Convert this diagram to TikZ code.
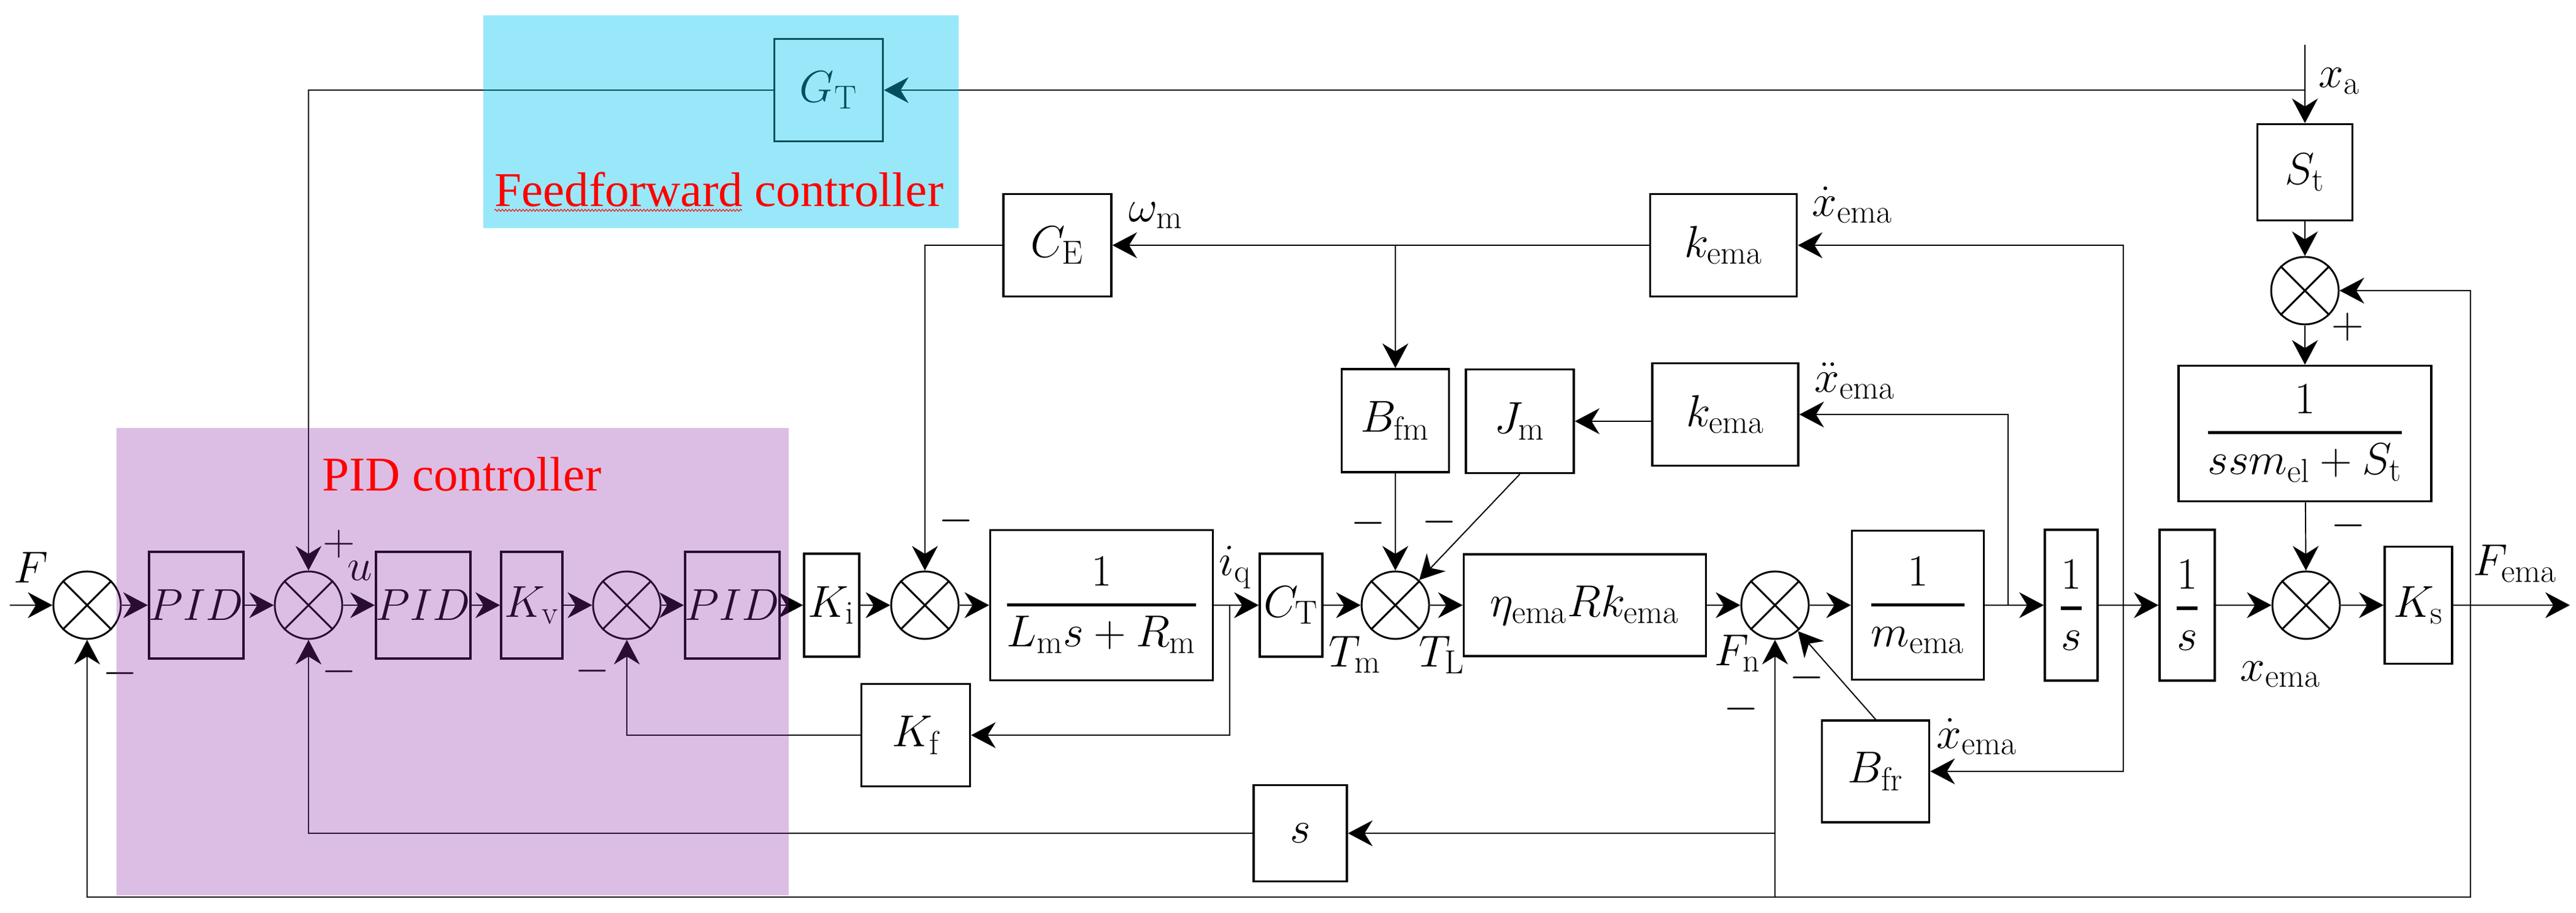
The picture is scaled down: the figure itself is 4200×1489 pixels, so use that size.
\documentclass[tikz,border=0pt]{standalone}
\usepackage{amsmath}
\usepackage{fontspec}
\newfontfamily\tnrfont{Liberation Serif}
\usetikzlibrary{arrows.meta,decorations.pathmorphing}
\newcommand\bigfs{\fontsize{22}{26}\selectfont}
\definecolor{pidpurple}{RGB}{140,40,167}
\definecolor{ffcyan}{RGB}{0,198,242}
\tikzset{
  blk/.style={draw, line width=1pt, inner sep=0pt, font=\bigfs},
  bx/.style 2 args={blk, minimum width=#1*0.01cm, minimum height=#2*0.01cm},
  sumn/.style={draw, circle, line width=0.85pt, minimum size=1.1cm, inner sep=0pt},
  con/.style={line width=0.55pt},
  arr/.style={con, -{Stealth[length=11.4pt,width=12pt,inset=3.7pt]}},
  lbl/.style={inner sep=0pt, font=\bigfs},
  redtxt/.style={inner sep=0pt, text=red, font=\tnrfont\fontsize{22.5}{26}\selectfont},
}
\begin{document}
\begin{tikzpicture}[x=0.01cm, y=-0.01cm]
\useasboundingbox (0,0) rectangle (4200,1489);
% main row
\node[sumn] (s1) at (142,987) {};
\node[bx={146}{174}] (p1) at (320,987) {$PID$};
\node[sumn] (s2) at (503,987) {};
\node[bx={149}{174}] (p2) at (690,987) {$PID$};
\node[bx={100}{174}] (kv) at (867,987) {$K_{\mathrm v}$};
\node[sumn] (s3) at (1022,987) {};
\node[bx={131}{174}] (p3) at (1194,987) {$PID$};
\node[bx={90}{168}] (ki) at (1356,987) {$K_{\mathrm i}$};
\node[sumn] (s4) at (1508,987) {};
\node[bx={363}{245}] (f1) at (1796,987) {$\genfrac{}{}{1.5pt}{0}{1}{L_{\mathrm m}s+R_{\mathrm m}}$};
\node[bx={102}{168}] (ct) at (2105,987) {$C_{\mathrm T}$};
\node[sumn] (s5) at (2275,987) {};
\node[bx={395}{166}] (eta) at (2584,987) {$\eta_{\mathrm{ema}}Rk_{\mathrm{ema}}$};
\node[sumn] (s6) at (2894,987) {};
\node[bx={215}{243}] (fm) at (3127,987) {$\genfrac{}{}{1.5pt}{0}{1}{m_{\mathrm{ema}}}$};
\node[bx={86}{246}] (i1) at (3377,987) {$\genfrac{}{}{1.5pt}{0}{1}{s}$};
\node[bx={90}{246}] (i2) at (3566,987) {$\genfrac{}{}{1.5pt}{0}{1}{s}$};
\node[sumn] (s7) at (3760,987) {};
\node[bx={110}{191}] (ks) at (3943,987) {$K_{\mathrm s}$};
% upper blocks
\node[bx={177}{167}] (gt) at (1351,147) {$G_{\mathrm T}$};
\node[bx={176}{167}] (ce) at (1724,400) {$C_{\mathrm E}$};
\node[bx={239}{167}] (k1) at (2810,400) {$k_{\mathrm{ema}}$};
\node[bx={175}{168}] (bfm) at (2275,686) {$B_{\mathrm{fm}}$};
\node[bx={176}{169}] (jm) at (2478,687) {$J_{\mathrm m}$};
\node[bx={238}{167}] (k2) at (2813,676) {$k_{\mathrm{ema}}$};
\node[bx={155}{157}] (st) at (3758,281) {$S_{\mathrm t}$};
\node[sumn] (s8) at (3758,474) {};
\node[bx={412}{221}] (g2) at (3758,707) {$\genfrac{}{}{1.5pt}{0}{1}{ssm_{\mathrm{el}}+S_{\mathrm t}}$};
% lower blocks
\node[bx={177}{167}] (kf) at (1493,1199) {$K_{\mathrm f}$};
\node[bx={152}{157}] (sb) at (2120,1359) {$s$};
\node[bx={175}{166}] (bfr) at (3058,1258) {$B_{\mathrm{fr}}$};
% crosses in summing junctions
\foreach \n in {s1,s2,s3,s4,s5,s6,s7,s8}
  \draw[line width=0.85pt] (\n.45) -- (\n.225) (\n.135) -- (\n.-45);
% coordinates
\coordinate (fin) at (16,987);
\coordinate (out) at (4190,987);
\coordinate (xa) at (3758,73);
\coordinate (xaj) at (3758,147);
\coordinate (brF) at (4028,987);
\coordinate (bot6) at (2894,1463);
\coordinate (iqb) at (2005,987);
\coordinate (xd) at (3462,987);
\coordinate (xdd) at (3274,987);
% main chain
\draw[arr] (fin) -- (s1);
\foreach \a/\b in {s1/p1,p1/s2,s2/p2,p2/kv,kv/s3,s3/p3,p3/ki,ki/s4,s4/f1,f1/ct,ct/s5,s5/eta,eta/s6,s6/fm,fm/i1,i1/i2,i2/s7,s7/ks}
  \draw[arr] (\a) -- (\b);
\draw[arr] (ks) -- (out);
% feedforward path
\draw[arr] (xa) -- (st);
\draw[arr] (xaj) -- (gt);
\draw[arr] (gt) -- (s2 |- gt) -- (s2);
\draw[arr] (st) -- (s8);
\draw[arr] (s8) -- (g2);
\draw[arr] (g2) -- (s7);
% output feedbacks
\draw[arr] (brF) |- (s8);
\draw[arr] (brF) |- (bot6) -- (s6);
\draw[arr] (bot6) -| (s1);
\draw[arr] (s6 |- sb) -- (sb);
\draw[arr] (sb) -| (s2);
% current loop
\draw[arr] (iqb) |- (kf);
\draw[arr] (kf) -| (s3);
% back EMF and motor load
\draw[arr] (ce) -| (s4);
\draw[arr] (k1) -- (ce);
\draw[arr] (bfm |- k1) -- (bfm);
\draw[arr] (xd) |- (k1);
\draw[arr] (xd) |- (bfr);
\draw[arr] (xdd) |- (k2);
\draw[arr] (k2.west |- jm.east) -- (jm.east);
\draw[arr] (bfm) -- (s5);
\draw[arr] (jm.south) -- (s5);
\draw[arr] (bfr.north) -- (s6);
% labels
\node[lbl, anchor=base west] at (22,950) {$F$};
\node[lbl] at (553,887) {$+$};
\node[lbl, anchor=base west] at (566,947) {$u$};
\node[lbl] at (196,1098) {$-$};
\node[lbl] at (553,1095) {$-$};
\node[lbl] at (966,1094) {$-$};
\node[lbl] at (1559,849) {$-$};
\node[lbl, anchor=base west] at (1987,939) {$i_{\mathrm q}$};
\node[lbl, anchor=base west] at (2166,1087) {$T_{\mathrm m}$};
\node[lbl, anchor=base west] at (2313,1087) {$T_{\mathrm L}$};
\node[lbl] at (2231,853) {$-$};
\node[lbl] at (2347,851) {$-$};
\node[lbl, anchor=base west] at (1840,362) {$\omega_{\mathrm m}$};
\node[lbl, anchor=base west] at (2954,353) {$\dot x_{\mathrm{ema}}$};
\node[lbl, anchor=base west] at (2958,640) {$\ddot x_{\mathrm{ema}}$};
\node[lbl, anchor=base west] at (3780,143) {$x_{\mathrm a}$};
\node[lbl] at (3828,533) {$+$};
\node[lbl] at (3829,857) {$-$};
\node[lbl, anchor=base west] at (2795,1085) {$F_{\mathrm n}$};
\node[lbl] at (2946,1105) {$-$};
\node[lbl] at (2839,1156) {$-$};
\node[lbl, anchor=base west] at (3157,1220) {$\dot x_{\mathrm{ema}}$};
\node[lbl, anchor=base west] at (3652,1110) {$x_{\mathrm{ema}}$};
\node[lbl, anchor=base west] at (4032,939) {$F_{\mathrm{ema}}$};
% highlight overlays
\fill[pidpurple, fill opacity=0.3] (190,698) rectangle (1286,1460);
\fill[ffcyan, fill opacity=0.4] (788,25) rectangle (1563,372);
\node[redtxt, anchor=base] at (753,801) {PID controller};
\node[redtxt, anchor=base west] at (806,337) {Feedforward controller};
\draw[red, line width=0.3pt, decorate, decoration={snake, amplitude=0.5pt, segment length=1.6pt}] (806,343) -- (1210,343);
\end{tikzpicture}
\end{document}
